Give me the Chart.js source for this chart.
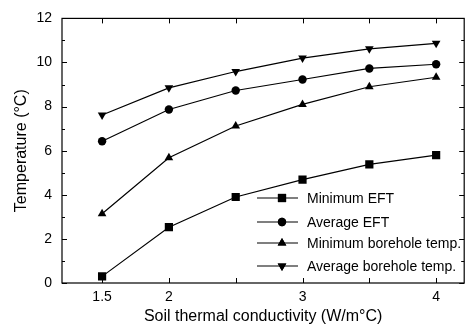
<!DOCTYPE html>
<html><head><meta charset="utf-8">
<script src="https://cdn.jsdelivr.net/npm/chart.js@4"></script>
<style>html,body{margin:0;padding:0;background:#fff}#wrap{width:470px;height:330px}</style>
</head><body><div id="wrap"><canvas id="c" width="470" height="330"></canvas></div>
<script>
const conductivity = [1.5, 2, 2.5, 3, 3.5, 4];
const minEFT = [0.3, 2.53, 3.9, 4.69, 5.38, 5.8];
const avgEFT = [6.43, 7.87, 8.73, 9.23, 9.73, 9.92];
const minBorehole = [3.14, 5.68, 7.12, 8.1, 8.9, 9.33];
const avgBorehole = [7.62, 8.85, 9.59, 10.2, 10.62, 10.87];
const seriesNames = ['Minimum EFT', 'Average EFT', 'Minimum borehole temp.', 'Average borehole temp.'];
const xTickLabels = ['1.5', '2', '', '3', '', '4'];
const yTicks = [0, 2, 4, 6, 8, 10, 12];

const FONT = '"Liberation Sans", Arial, sans-serif';
function pts(vals){ return conductivity.map((x,i)=>({x:x,y:vals[i]})); }
const styles = [
  {pointStyle:'rect', pointRadius:5.8, rot:0},
  {pointStyle:'circle', pointRadius:4.2, rot:0},
  {pointStyle:'triangle', pointRadius:5, rot:0},
  {pointStyle:'triangle', pointRadius:5, rot:180}
];
const allVals = [minEFT, avgEFT, minBorehole, avgBorehole];
const datasets = allVals.map((v,i)=>({
  label: seriesNames[i], data: pts(v),
  borderColor:'#000', backgroundColor:'#000', borderWidth:1.2,
  pointStyle: styles[i].pointStyle, pointRadius: styles[i].pointRadius,
  pointRotation: styles[i].rot, pointBorderWidth:0, pointBackgroundColor:'#000',
  fill:false, tension:0
}));

const framePlugin = {
  id:'frame',
  afterDraw(chart){
    const ctx = chart.ctx, a = chart.chartArea, xs = chart.scales.x, ys = chart.scales.y;
    ctx.save();
    ctx.strokeStyle='#000'; ctx.lineWidth=1.2;
    ctx.strokeRect(a.left, a.top, a.right-a.left, a.bottom-a.top);
    ctx.lineWidth=1;
    ctx.beginPath();
    conductivity.forEach(v=>{
      const px = Math.round(xs.getPixelForValue(v))+0.5;
      ctx.moveTo(px,a.bottom); ctx.lineTo(px,a.bottom-5);
      ctx.moveTo(px,a.top); ctx.lineTo(px,a.top+5);
    });
    for(let v=0; v<=12; v+=1){
      const py = Math.round(ys.getPixelForValue(v))+0.5;
      const L = (v%2===0)?5:3;
      ctx.moveTo(a.left,py); ctx.lineTo(a.left+L,py);
      ctx.moveTo(a.right,py); ctx.lineTo(a.right-L,py);
    }
    ctx.stroke();
    // legend
    const rowsY = [198, 222, 243, 266];
    const x0 = 257, x1 = 298, mx = 282, tx = 307;
    ctx.font = '14px ' + FONT; ctx.fillStyle='#000'; ctx.textBaseline='middle';
    chart.data.datasets.forEach((ds,i)=>{
      const y = rowsY[i];
      ctx.beginPath(); ctx.lineWidth=1.2; ctx.moveTo(x0,y); ctx.lineTo(x1,y); ctx.stroke();
      Chart.helpers.drawPoint(ctx, {pointStyle:ds.pointStyle, radius:ds.pointRadius, rotation:ds.pointRotation, borderWidth:0}, mx, y);
      ctx.fill();
      ctx.fillText(ds.label, tx, y+1);
    });
    ctx.restore();
  }
};

new Chart(document.getElementById('c'), {
  type:'line',
  data:{datasets:datasets},
  options:{
    responsive:false, animation:false, devicePixelRatio:1,
    layout:{padding:{top:12, right:3, left:0, bottom:0}},
    plugins:{legend:{display:false}, tooltip:{enabled:false}},
    scales:{
      x:{type:'linear', min:1.2, max:4.21,
        afterBuildTicks(s){ s.ticks = conductivity.map(v=>({value:v})); },
        afterFit(s){ s.height = 47; },
        ticks:{color:'#000', font:{family:FONT, size:14}, padding:6,
          callback:(v,i)=>xTickLabels[i]},
        grid:{display:false, drawTicks:false}, border:{display:false},
        title:{display:true, text:'Soil thermal conductivity (W/m\u00B0C)', color:'#000', font:{family:FONT, size:16}, padding:{top:2}}
      },
      y:{min:0, max:12,
        afterBuildTicks(s){ s.ticks = yTicks.map(v=>({value:v})); },
        afterFit(s){ s.width = 62; },
        ticks:{color:'#000', font:{family:FONT, size:14}, padding:10},
        grid:{display:false, drawTicks:false}, border:{display:false},
        title:{display:true, text:'Temperature (\u00B0C)', color:'#000', font:{family:FONT, size:16}, padding:{top:12, bottom:4}}
      }
    }
  },
  plugins:[framePlugin]
});
</script></body></html>
